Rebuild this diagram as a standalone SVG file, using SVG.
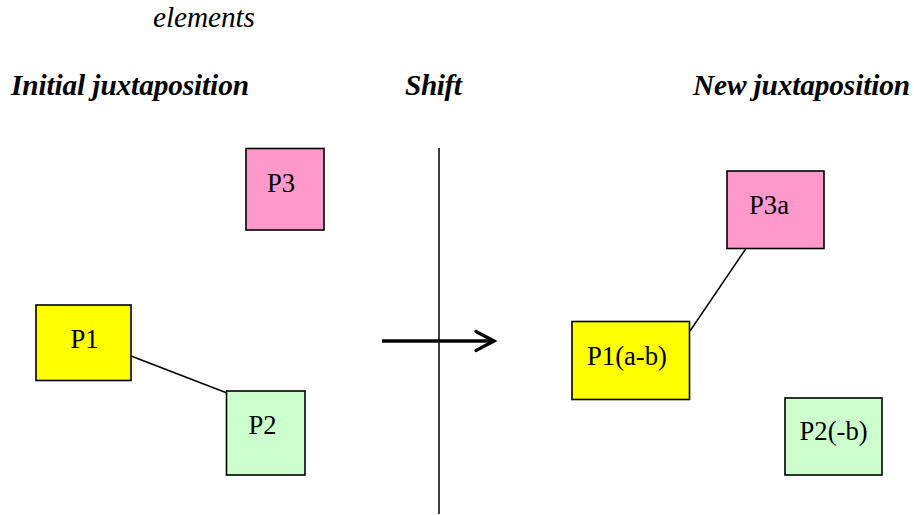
<svg xmlns="http://www.w3.org/2000/svg" width="914" height="515" viewBox="0 0 914 515">
<style>
.box{stroke:#000;stroke-width:1.6}
.pink{fill:#FF99CC}
.yellow{fill:#FFFF00}
.green{fill:#CCFFCC}
.lbl{font-family:"Liberation Serif","Times New Roman",serif;font-size:26.67px;fill:#000}
.title{font-family:"Liberation Serif","Times New Roman",serif;font-size:29.33px;font-style:italic;font-weight:bold;fill:#000}
.sub{font-family:"Liberation Serif","Times New Roman",serif;font-size:29.33px;font-style:italic;fill:#000}
.conn{stroke:#000;stroke-width:1.5;fill:none}
</style>
<rect width="914" height="515" fill="#fff"/>
<g id="titles">
<text class="sub" x="153" y="27" textLength="102">elements</text>
<text class="title" x="11" y="95" textLength="238">Initial juxtaposition</text>
<text class="title" x="405" y="95" textLength="57">Shift</text>
<text class="title" x="693" y="95" textLength="217">New juxtaposition</text>
</g>
<g id="connectors">
<line class="conn" x1="439" y1="148" x2="439" y2="514"/>
<line x1="382" y1="341" x2="493" y2="341" stroke="#000" stroke-width="3.3"/>
<polyline points="476,331.5 494,341 476,350.5" fill="none" stroke="#000" stroke-width="3.3" stroke-linecap="round" stroke-linejoin="miter"/>
<line class="conn" x1="131" y1="356" x2="227" y2="393"/>
<line class="conn" x1="690" y1="331" x2="747" y2="247"/>
</g>
<g id="P3">
<rect class="box pink" x="246" y="148.5" width="78" height="81.5"/>
<text class="lbl" x="267" y="192">P3</text>
</g>
<g id="P1">
<rect class="box yellow" x="36" y="305" width="95" height="75.5"/>
<text class="lbl" x="70.5" y="348">P1</text>
</g>
<g id="P2">
<rect class="box green" x="226.5" y="391" width="78.5" height="84"/>
<text class="lbl" x="248.5" y="434">P2</text>
</g>
<g id="P3a">
<rect class="box pink" x="727" y="171" width="97" height="77.5"/>
<text class="lbl" x="749" y="214">P3a</text>
</g>
<g id="P1ab">
<rect class="box yellow" x="572" y="321.5" width="117.5" height="78"/>
<text class="lbl" x="587" y="365">P1(a-b)</text>
</g>
<g id="P2b">
<rect class="box green" x="785" y="398" width="97" height="77"/>
<text class="lbl" x="799.5" y="440">P2(-b)</text>
</g>
</svg>
